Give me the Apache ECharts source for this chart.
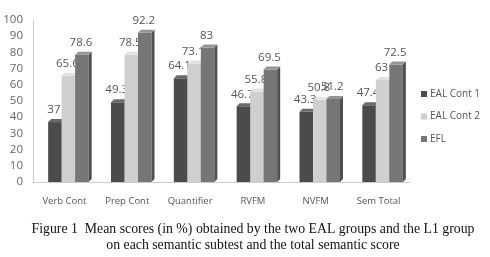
<!DOCTYPE html>
<html><head><meta charset="utf-8">
<script src="https://cdn.jsdelivr.net/npm/echarts@6/dist/echarts.min.js"></script>
<style>html,body{margin:0;padding:0;background:#fff}#c{width:490px;height:257px}</style>
</head><body><div id="c"></div>
<script>
const categories = ['Verb Cont','Prep Cont','Quantifier','RVFM','NVFM','Sem Total'];
const eal1 = [37, 49.3, 64.1, 46.7, 43.3, 47.4];
const eal2 = [65.6, 78.5, 73.1, 55.8, 50.8, 63];
const efl = [78.6, 92.2, 83, 69.5, 51.2, 72.5];
const seriesNames = ['EAL Cont 1','EAL Cont 2','EFL'];
const yTicks = [0,10,20,30,40,50,60,70,80,90,100];

const faces = [
  {front:'#4b4b4b', side:'#2e2e2e', top:'#6a6a6a'},
  {front:'#cfcfcf', side:'#a5a5a5', top:'#e2e2e2'},
  {front:'#767676', side:'#4f4f4f', top:'#959595'}
];
function makeRender(si){
  return function(params, api){
    const x = api.value(0), v = api.value(1);
    const base = api.coord([x, 0]);
    const top = api.coord([x, v]);
    const band = api.size([1,0])[0];
    const w = band*0.215;
    const d = 3;
    const cx = base[0] + (si-1)*w + 4;
    const l = cx - w/2, r = cx + w/2;
    const f = faces[si];
    return {type:'group', children:[
      {type:'rect', shape:{x:l, y:top[1], width:w, height:base[1]-top[1]}, style:{fill:f.front}},
      {type:'polygon', shape:{points:[[r,top[1]],[r+d,top[1]-d],[r+d,base[1]-d],[r,base[1]]]}, style:{fill:f.side}},
      {type:'polygon', shape:{points:[[l,top[1]],[l+d,top[1]-d],[r+d,top[1]-d],[r,top[1]]]}, style:{fill:f.top}},
      {type:'text', style:{text:String(v), x:cx-1, y:top[1]-d-3, align:'center', verticalAlign:'bottom', fill:'#555', font:'11.5px "Open Sans", sans-serif'}}
    ]};
  };
}
const datas = [eal1, eal2, efl];
const chart = echarts.init(document.getElementById('c'), null, {renderer:'canvas'});
chart.setOption({
  animation:false,
  backgroundColor:'#fff',
  title:{text:'Figure 1  Mean scores (in %) obtained by the two EAL groups and the L1 group\non each semantic subtest and the total semantic score',
    left:248, top:216, textAlign:'center',
    textStyle:{fontFamily:'"Liberation Serif", serif', fontWeight:'normal', fontSize:13.8, color:'#111', lineHeight:16.5}},
  legend:{orient:'vertical', left:416, top:84, itemGap:12.5, itemWidth:6, itemHeight:6, icon:'rect',
    textStyle:{fontFamily:'"Open Sans", sans-serif', fontSize:10, color:'#555', padding:[0,0,0,-2]},
    data:seriesNames},
  grid:{left:33, right:80, top:20, bottom:75, containLabel:false},
  xAxis:{type:'category', data:categories, axisLine:{lineStyle:{color:'#ccc'}}, axisTick:{show:false},
    axisLabel:{color:'#555', fontSize:9.5, fontFamily:'"Open Sans", sans-serif', margin:14}},
  yAxis:{type:'value', min:0, max:100, interval:10, axisLine:{show:true, lineStyle:{color:'#ccc'}}, axisTick:{show:false}, splitLine:{show:false},
    axisLabel:{color:'#666', fontSize:11.5, fontFamily:'"Open Sans", sans-serif', margin:10}},
  series: datas.map((arr, si) => ({
    type:'custom', name:seriesNames[si], renderItem:makeRender(si),
    itemStyle:{color:faces[si].front},
    encode:{x:0, y:1},
    data: arr.map((v,i)=>[i, v])
  }))
});
</script></body></html>
